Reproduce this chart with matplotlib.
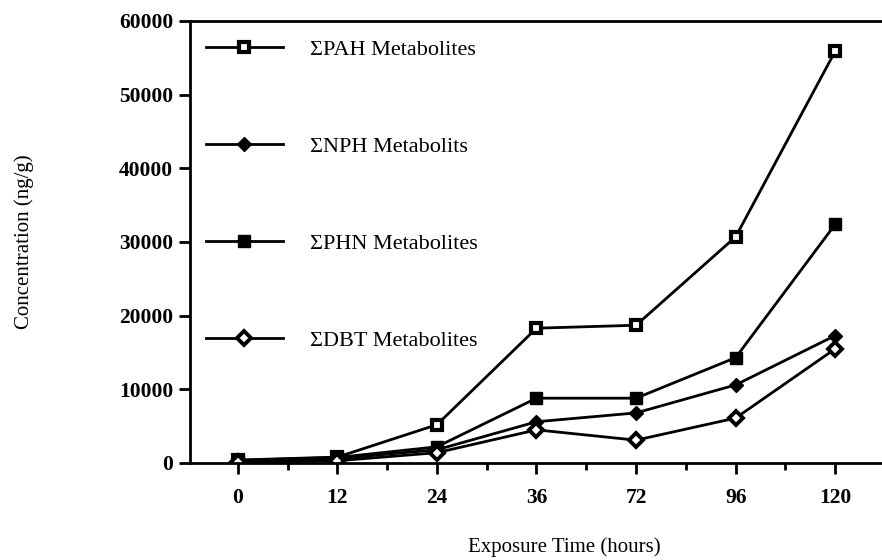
import matplotlib
matplotlib.use("Agg")
import matplotlib.pyplot as plt
from matplotlib.ticker import FixedLocator

plt.rcParams['font.family'] = ['Liberation Serif', 'DejaVu Serif']

hours = ["0", "12", "24", "36", "72", "96", "120"]
pah = [400, 800, 5200, 18300, 18700, 30700, 55900]
nph = [300, 600, 1800, 5600, 6800, 10600, 17300]
phn = [350, 750, 2200, 8800, 8800, 14300, 32400]
dbt = [100, 300, 1400, 4500, 3100, 6100, 15500]

series = [
    ("\u03a3PAH Metabolites", pah, dict(marker='s', ms=7.5, mfc='white', mec='black', mew=3.0)),
    ("\u03a3NPH Metabolits", nph, dict(marker='D', ms=7, mfc='black', mec='black', mew=1)),
    ("\u03a3PHN Metabolites", phn, dict(marker='s', ms=9, mfc='black', mec='black', mew=1)),
    ("\u03a3DBT Metabolites", dbt, dict(marker='D', ms=7, mfc='white', mec='black', mew=2.8)),
]

fig = plt.figure(figsize=(8.82, 5.60), dpi=100)
W, H = 882, 560
left, right, top, bottom = 190, 882, 21, 463
ax = fig.add_axes([left / W, 1 - bottom / H, (right - left) / W, (bottom - top) / H])

x = list(range(len(hours)))
for label, vals, st in series:
    ax.plot(x, vals, color='black', lw=2.0, label=label, **st)

ax.set_xlim(-0.48, 6.47)
ax.set_ylim(0, 60000)
ax.set_xticks(x)
ax.set_xticklabels(hours)
ax.xaxis.set_minor_locator(FixedLocator([i + 0.5 for i in range(-1, 6)]))
ax.set_yticks(range(0, 60001, 10000))

ax.spines['right'].set_visible(False)
for s in ['left', 'bottom', 'top']:
    ax.spines[s].set_linewidth(2.0)

ax.tick_params(axis='both', which='major', direction='out', length=8, width=2.0,
               labelsize=15.5, pad=10)
ax.tick_params(axis='x', which='minor', direction='out', length=5, width=2.0)
ax.tick_params(axis='y', which='major', pad=4)
for lab in ax.get_xticklabels() + ax.get_yticklabels():
    lab.set_fontweight('bold')

ax.set_ylabel("Concentration (ng/g)", fontsize=15)
ax.yaxis.set_label_coords(-(190 - 34) / (right - left), 0.5)
ax.set_xlabel("Exposure Time (hours)", fontsize=15)
ax.xaxis.set_label_coords((564 - left) / (right - left), -(537 - bottom) / (bottom - top))

leg = ax.legend(loc='upper left', bbox_to_anchor=(0.0, 0.993), frameon=False,
                fontsize=16, handlelength=3.5, handletextpad=1.2, labelspacing=3.43,
                borderaxespad=0.4, borderpad=0.3)

fig.savefig("out.png", dpi=100)
